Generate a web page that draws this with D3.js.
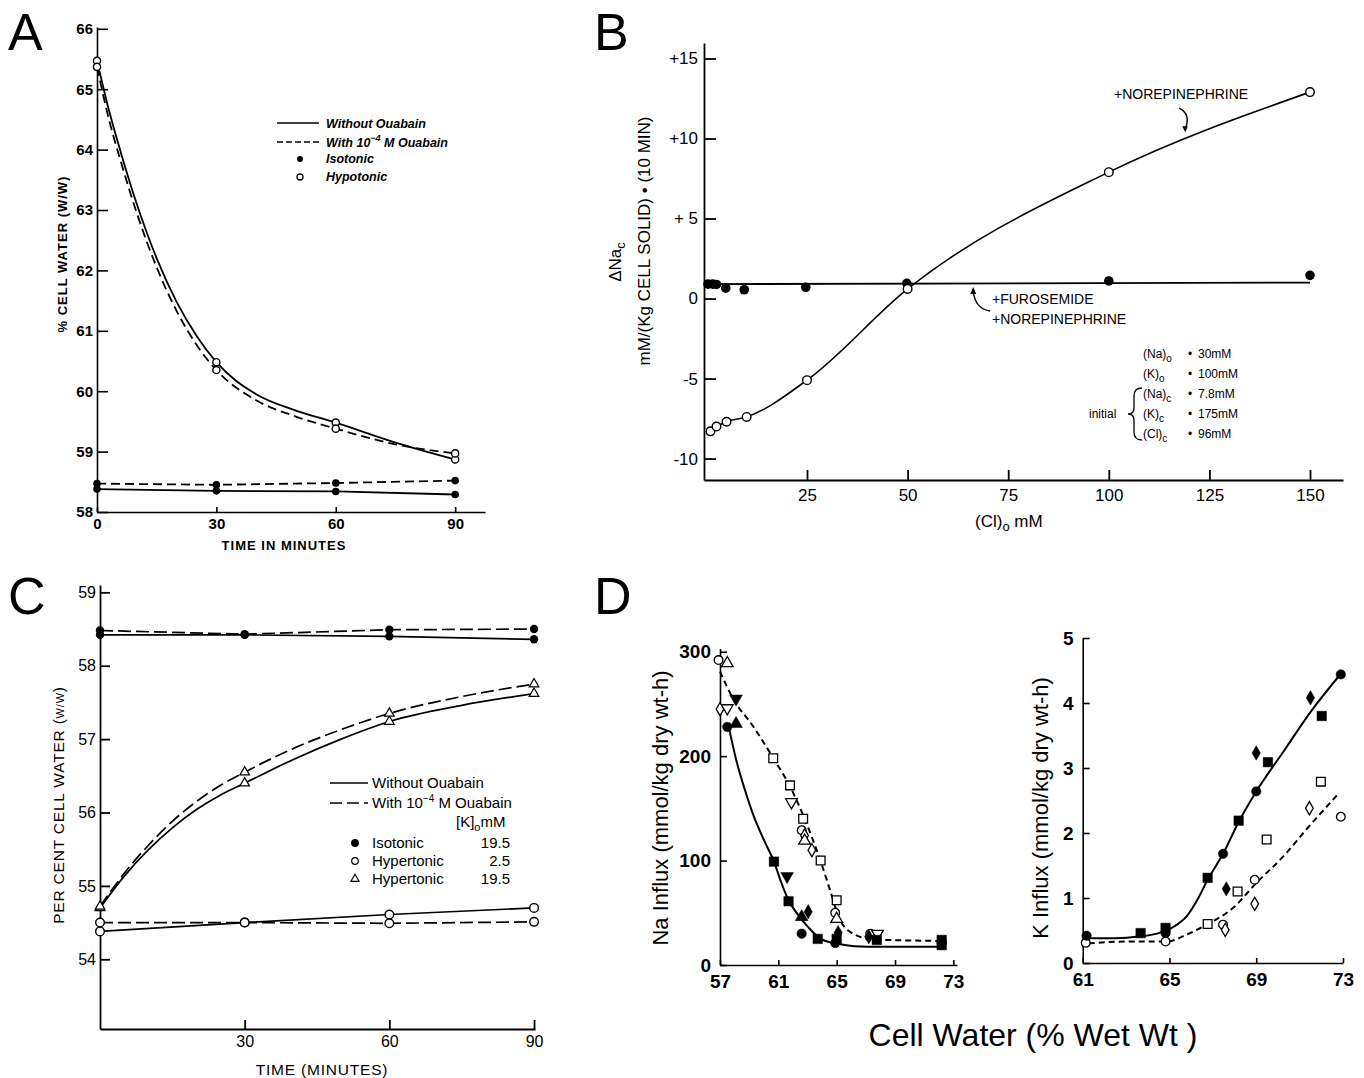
<!DOCTYPE html>
<html><head><meta charset="utf-8">
<script src="https://cdn.jsdelivr.net/npm/d3@7"></script>
<style>body{margin:0;background:#fff}svg{display:block}</style>
</head><body>
<script>
// ================= DATA =================
// Panel A
const aTime = [0, 30, 60, 90];
const aHypoWithout = [65.47, 60.48, 59.48, 58.87];
const aHypoWith = [65.37, 60.35, 59.38, 58.97];
const aIsoWithout = [58.38, 58.35, 58.34, 58.29];
const aIsoWith = [58.47, 58.45, 58.48, 58.52];
const aFitTime = [0, 3, 6, 10, 15, 20, 25, 30, 40, 50, 60, 75, 90];
const aFitWithout = [65.47, 64.65, 63.95, 63.1, 62.2, 61.48, 60.92, 60.48, 59.95, 59.68, 59.48, 59.15, 58.87];
const aFitWith = [65.37, 64.5, 63.8, 62.95, 62.05, 61.33, 60.77, 60.35, 59.85, 59.58, 59.38, 59.12, 58.97];
const aYTicks = [58, 59, 60, 61, 62, 63, 64, 65, 66];
const aXTicks = [0, 30, 60, 90];

// Panel B
const bClNE = [1, 2.5, 5, 10, 25, 50, 100, 150];
const bNaNE = [-8.3, -8.0, -7.7, -7.4, -5.1, 0.6, 7.9, 12.9];
const bClFuro = [0.4, 1.6, 2.5, 4.8, 9.4, 24.7, 49.8, 100, 150];
const bNaFuro = [0.9, 0.9, 0.88, 0.65, 0.55, 0.7, 0.95, 1.1, 1.45];
const bFuroFitCl = [0, 150];
const bFuroFitNa = [0.9, 1.0];
const bXTicks = [25, 50, 75, 100, 125, 150];
const bYTicks = [-10, -5, 0, 5, 10, 15];
const bYTickLabels = ["-10", "-5", "0", "+ 5", "+10", "+15"];
const bCondLabel = ["(Na)", "(K)", "(Na)", "(K)", "(Cl)"];
const bCondSub = ["o", "o", "c", "c", "c"];
const bCondValue = ["30mM", "100mM", "7.8mM", "175mM", "96mM"];

// Panel C
const cTime = [0, 30, 60, 90];
const cIsoWithout = [58.42, 58.42, 58.40, 58.36];
const cIsoWith = [58.48, 58.43, 58.49, 58.50];
const cHyp25Without = [54.38, 54.50, 54.61, 54.70];
const cHyp25With = [54.50, 54.50, 54.49, 54.51];
const cHyp195Without = [54.70, 56.40, 57.24, 57.62];
const cHyp195With = [54.72, 56.55, 57.35, 57.75];
const cFitTime = [0, 5, 10, 15, 20, 25, 30, 40, 50, 60, 75, 90];
const cFit195Without = [54.70, 55.13, 55.49, 55.79, 56.04, 56.24, 56.40, 56.72, 57.0, 57.24, 57.46, 57.62];
const cFit195With = [54.72, 55.17, 55.55, 55.88, 56.15, 56.37, 56.55, 56.87, 57.13, 57.35, 57.58, 57.75];
const cYTicks = [54, 55, 56, 57, 58, 59];
const cXTicks = [30, 60, 90];
const cLegendNames = ["Isotonic", "Hypertonic", "Hypertonic"];
const cLegendK = ["19.5", "2.5", "19.5"];

// Panel D (Na influx)
const naClosed = [[57.5,228,"circle"],[58.1,231,"triangle"],[58.1,255,"invtri"],[60.7,99,"square"],
  [61.6,85,"invtri"],[61.7,61,"square"],[62.6,46,"triangle"],[63.05,51,"diamond"],[62.6,30,"circle"],
  [63.7,25,"square"],[64.9,21,"circle"],[65.0,25,"square"],[65.1,31,"diamond"],[67.2,27,"diamond"],
  [67.75,24,"square"],[72.2,24,"square"],[72.2,19,"square"]];
const naOpen = [[56.9,292,"circle"],[57.5,289,"triangle"],[57.0,245,"diamond"],[57.5,246,"invtri"],
  [60.65,198,"square"],[61.8,172,"square"],[61.9,156,"invtri"],[62.7,140,"square"],[62.6,129,"circle"],
  [62.8,124,"diamond"],[62.8,119,"triangle"],[63.3,110,"diamond"],[63.9,100,"square"],[65.0,62,"square"],
  [64.9,50,"circle"],[65.0,44,"triangle"],[67.3,30,"circle"],[67.8,30,"invtri"]];
const naFitSolid = [[57.57,230],[58.1,197],[58.7,168],[59.3,143],[60,120],[60.7,99],[61.2,79],[61.7,62],
  [62.3,49],[63,37],[63.9,25],[65,20.5],[66.2,18],[68,17.5],[72.3,17.5]];
const naFitDashed = [[57.0,281],[57.9,255],[59.3,228],[60.66,198],[61.8,171],[62.83,139],[63.86,101],
  [64.54,72],[65.23,43],[66.14,30],[67.5,24.5],[72.3,23]];
const naXTicks = [57, 61, 65, 69, 73];
const naYTicks = [0, 100, 200, 300];

// Panel D (K influx)
const kClosed = [[61.18,0.42,"circle"],[63.67,0.46,"square"],[64.82,0.54,"square"],[64.82,0.46,"circle"],
  [66.76,1.31,"square"],[67.62,1.14,"diamond"],[67.47,1.68,"circle"],[68.19,2.19,"square"],[69.0,2.64,"circle"],
  [69.0,3.23,"diamond"],[69.54,3.09,"square"],[71.5,4.08,"diamond"],[72.02,3.80,"square"],[72.9,4.44,"circle"]];
const kOpen = [[61.14,0.31,"circle"],[64.82,0.33,"circle"],[66.76,0.60,"square"],[67.47,0.59,"circle"],
  [67.57,0.51,"diamond"],[68.14,1.10,"square"],[68.93,1.28,"circle"],[68.93,0.91,"diamond"],[69.48,1.90,"square"],
  [71.45,2.38,"diamond"],[71.98,2.79,"square"],[72.9,2.25,"circle"]];
const kFitSolid = [[61.28,0.38],[62.5,0.38],[63.67,0.41],[64.5,0.46],[65.2,0.56],[65.8,0.72],[66.3,0.98],
  [66.76,1.28],[67.47,1.68],[68.19,2.17],[69.0,2.64],[70.25,3.25],[71.5,3.86],[72.9,4.45]];
const kFitDashed = [[61.28,0.3],[63,0.33],[64.9,0.33],[65.8,0.44],[66.72,0.59],[67.94,0.85],[69.0,1.23],
  [70.25,1.64],[71.3,2.05],[72.83,2.62]];
const kXTicks = [61, 65, 69, 73];
const kYTicks = [0, 1, 2, 3, 4, 5];

// ================= DRAWING =================
const FONT = "'Liberation Sans', Arial, Helvetica, sans-serif";
const intFmt = d3.format("d");
const svg = d3.select("body").append("svg").attr("width", 1364).attr("height", 1078)
  .style("font-family", FONT);

function styleAxis(g, fs, fw, sw) {
  g.attr("font-size", fs).attr("font-family", FONT);
  g.select(".domain").attr("stroke", "#000").attr("stroke-width", sw);
  g.selectAll(".tick line").attr("stroke", "#000").attr("stroke-width", sw);
  g.selectAll(".tick text").attr("fill", "#000").attr("font-weight", fw);
}
function zip(a, b) { return a.map((v, i) => [v, b[i]]); }
function rich(g, x, y, parts, attrs) {
  const t = g.append("text").attr("x", x).attr("y", y);
  Object.entries(attrs || {}).forEach(([k, v]) => t.attr(k, v));
  let shift = 0;
  parts.forEach(([s, kind, fsz]) => {
    const ts = t.append("tspan").text(s);
    let target = kind === "sub" ? 4 : kind === "sup" ? -6 : 0;
    ts.attr("dy", target - shift); shift = target;
    if (fsz) ts.attr("font-size", fsz);
  });
  return t;
}
const symType = { circle: d3.symbolCircle, square: d3.symbolSquare, triangle: d3.symbolTriangle,
  invtri: d3.symbolTriangle, diamond: d3.symbolDiamond };
const symSize = { circle: 70, square: 90, triangle: 70, invtri: 70, diamond: 60 };

// Panel letters
[["A", 8, 50], ["B", 594, 50], ["C", 8, 614], ["D", 594, 614]].forEach(([l, x, y]) =>
  svg.append("text").attr("x", x).attr("y", y).attr("font-size", 52).text(l));

// ---------- Panel A ----------
{
  const g = svg.append("g");
  const x = d3.scaleLinear().domain([0, 97.5]).range([97, 485]);
  const y = d3.scaleLinear().domain([58, 66.03]).range([512, 27]);
  styleAxis(g.append("g").attr("transform", `translate(0,${y(58)})`)
    .call(d3.axisBottom(x).tickValues(aXTicks).tickFormat(intFmt).tickSize(-5).tickSizeOuter(0).tickPadding(6)), 15, "bold", 1.6);
  styleAxis(g.append("g").attr("transform", `translate(${x(0)},0)`)
    .call(d3.axisLeft(y).tickValues(aYTicks).tickFormat(intFmt).tickSize(-11).tickSizeOuter(0).tickPadding(4)), 15, "bold", 1.6);
  const fit = d3.line().x(d => x(d[0])).y(d => y(d[1])).curve(d3.curveMonotoneX);
  const lin = d3.line().x(d => x(d[0])).y(d => y(d[1]));
  g.append("path").attr("d", fit(zip(aFitTime, aFitWithout))).attr("fill", "none").attr("stroke", "#000").attr("stroke-width", 1.8);
  g.append("path").attr("d", fit(zip(aFitTime, aFitWith))).attr("fill", "none").attr("stroke", "#000").attr("stroke-width", 1.8).attr("stroke-dasharray", "9,5");
  g.append("path").attr("d", lin(zip(aTime, aIsoWithout))).attr("fill", "none").attr("stroke", "#000").attr("stroke-width", 1.8);
  g.append("path").attr("d", lin(zip(aTime, aIsoWith))).attr("fill", "none").attr("stroke", "#000").attr("stroke-width", 1.8).attr("stroke-dasharray", "9,5");
  [aHypoWithout, aHypoWith].forEach(arr => g.selectAll(null).data(zip(aTime, arr)).enter().append("circle")
    .attr("cx", d => x(d[0])).attr("cy", d => y(d[1])).attr("r", 3.6).attr("fill", "#fff").attr("stroke", "#000").attr("stroke-width", 1.4));
  [aIsoWithout, aIsoWith].forEach(arr => g.selectAll(null).data(zip(aTime, arr)).enter().append("circle")
    .attr("cx", d => x(d[0])).attr("cy", d => y(d[1])).attr("r", 3.8).attr("fill", "#000"));
  // legend
  const lg = g.append("g").attr("font-size", 12.5).attr("font-weight", "bold").attr("font-style", "italic");
  lg.append("line").attr("x1", 277).attr("x2", 319).attr("y1", 123).attr("y2", 123).attr("stroke", "#000").attr("stroke-width", 1.6);
  lg.append("text").attr("x", 326).attr("y", 127.5).text("Without  Ouabain");
  lg.append("line").attr("x1", 277).attr("x2", 319).attr("y1", 142).attr("y2", 142).attr("stroke", "#000").attr("stroke-width", 1.6).attr("stroke-dasharray", "6,3");
  rich(lg, 326, 146.5, [["With 10"], ["−4", "sup", 9], [" M Ouabain"]]);
  lg.append("circle").attr("cx", 300).attr("cy", 159).attr("r", 3).attr("fill", "#000");
  lg.append("text").attr("x", 326).attr("y", 163).text("Isotonic");
  lg.append("circle").attr("cx", 300).attr("cy", 177).attr("r", 3).attr("fill", "#fff").attr("stroke", "#000").attr("stroke-width", 1.3);
  lg.append("text").attr("x", 326).attr("y", 181).text("Hypotonic");
  g.append("text").attr("transform", "translate(67,254) rotate(-90)").attr("text-anchor", "middle")
    .attr("font-size", 13).attr("font-weight", "bold").attr("letter-spacing", 1).text("% CELL WATER (W/W)");
  g.append("text").attr("x", 284).attr("y", 550).attr("text-anchor", "middle")
    .attr("font-size", 13).attr("font-weight", "bold").attr("letter-spacing", 1).text("TIME IN MINUTES");
}

// ---------- Panel B ----------
{
  const g = svg.append("g");
  const x = d3.scaleLinear().domain([-0.6, 158.2]).range([704, 1343]);
  const y = d3.scaleLinear().domain([-11.34, 15.97]).range([480, 43]);
  styleAxis(g.append("g").attr("transform", `translate(0,${y.range()[0]})`)
    .call(d3.axisBottom(x).tickValues(bXTicks).tickFormat(intFmt).tickSize(-10).tickSizeOuter(0).tickPadding(9)), 17, "normal", 1.8);
  styleAxis(g.append("g").attr("transform", `translate(${x.range()[0]},0)`)
    .call(d3.axisLeft(y).tickValues(bYTicks).tickFormat((d, i) => bYTickLabels[i]).tickSize(-12).tickSizeOuter(0).tickPadding(6)), 17, "normal", 1.8);
  const fit = d3.line().x(d => x(d[0])).y(d => y(d[1])).curve(d3.curveMonotoneX);
  g.append("path").attr("d", fit(zip(bFuroFitCl, bFuroFitNa))).attr("fill", "none").attr("stroke", "#000").attr("stroke-width", 1.8);
  g.append("path").attr("d", fit(zip(bClNE, bNaNE))).attr("fill", "none").attr("stroke", "#000").attr("stroke-width", 1.6);
  g.selectAll(null).data(zip(bClFuro, bNaFuro)).enter().append("circle")
    .attr("cx", d => x(d[0])).attr("cy", d => y(d[1])).attr("r", 4.8).attr("fill", "#000");
  g.selectAll(null).data(zip(bClNE, bNaNE)).enter().append("circle")
    .attr("cx", d => x(d[0])).attr("cy", d => y(d[1])).attr("r", 4.3).attr("fill", "#fff").attr("stroke", "#000").attr("stroke-width", 1.4);
  // annotations
  const an = g.append("g").attr("font-size", 14);
  an.append("text").attr("x", 1114).attr("y", 99).text("+NOREPINEPHRINE");
  const t1 = [x(119), y(10.4)];
  an.append("path").attr("d", `M${t1[0] - 6},${t1[1] - 24} Q${t1[0] + 6},${t1[1] - 18} ${t1[0]},${t1[1] - 3}`)
    .attr("fill", "none").attr("stroke", "#000").attr("stroke-width", 1.4);
  an.append("path").attr("d", `M${t1[0] - 3},${t1[1] - 6} L${t1[0]},${t1[1]} L${t1[0] + 2.5},${t1[1] - 6}Z`).attr("fill", "#000");
  an.append("text").attr("x", 992).attr("y", 304).text("+FUROSEMIDE");
  an.append("text").attr("x", 992).attr("y", 324).text("+NOREPINEPHRINE");
  const t2 = [x(66.3), y(0.72)];
  an.append("path").attr("d", `M${t2[0] + 17},${t2[1] + 24} Q${t2[0] + 2},${t2[1] + 22} ${t2[0]},${t2[1] + 4}`)
    .attr("fill", "none").attr("stroke", "#000").attr("stroke-width", 1.4);
  an.append("path").attr("d", `M${t2[0] - 3},${t2[1] + 7} L${t2[0]},${t2[1]} L${t2[0] + 3},${t2[1] + 7}Z`).attr("fill", "#000");
  // conditions
  const cg = g.append("g").attr("font-size", 12);
  bCondLabel.forEach((lab, i) => {
    const yy = 358 + i * 20;
    rich(cg, 1143, yy, [[lab], [bCondSub[i], "sub", 10]]);
    cg.append("text").attr("x", 1188).attr("y", yy).text("•");
    cg.append("text").attr("x", 1198).attr("y", yy).text(bCondValue[i]);
  });
  cg.append("text").attr("x", 1089).attr("y", 418).text("initial");
  cg.append("path").attr("d", "M1142,388 Q1134,388 1134,396 L1134,408 Q1134,414 1128,414 Q1134,414 1134,420 L1134,432 Q1134,440 1142,440")
    .attr("fill", "none").attr("stroke", "#000").attr("stroke-width", 1.3);
  // axis titles
  rich(g, 0, 0, [["ΔNa"], ["c", "sub", 13]], { transform: "translate(621,262) rotate(-90)", "text-anchor": "middle", "font-size": 17 });
  g.append("text").attr("transform", "translate(650,241) rotate(-90)").attr("text-anchor", "middle")
    .attr("font-size", 17).text("mM/(Kg CELL SOLID) • (10 MIN)");
  rich(g, 975, 527, [["(Cl)"], ["o", "sub", 13], ["   mM", "base"]], { "font-size": 17 });
}

// ---------- Panel C ----------
{
  const g = svg.append("g");
  const x = d3.scaleLinear().domain([0, 90.2]).range([100, 535]);
  const y = d3.scaleLinear().domain([53.05, 59.1]).range([1029, 585]);
  styleAxis(g.append("g").attr("transform", `translate(0,${y.range()[0]})`)
    .call(d3.axisBottom(x).tickValues(cXTicks).tickFormat(intFmt).tickSize(-9).tickSizeOuter(0).tickPadding(7)), 16, "normal", 1.8);
  styleAxis(g.append("g").attr("transform", `translate(${x.range()[0]},0)`)
    .call(d3.axisLeft(y).tickValues(cYTicks).tickFormat(intFmt).tickSize(-10).tickSizeOuter(0).tickPadding(4)), 16, "normal", 1.8);
  const fit = d3.line().x(d => x(d[0])).y(d => y(d[1])).curve(d3.curveMonotoneX);
  const lin = d3.line().x(d => x(d[0])).y(d => y(d[1]));
  const dash = "13,5";
  const draw = (pts, gen, dashed) => g.append("path").attr("d", gen(pts)).attr("fill", "none").attr("stroke", "#000")
    .attr("stroke-width", 1.7).attr("stroke-dasharray", dashed ? dash : null);
  draw(zip(cTime, cIsoWithout), lin, false);
  draw(zip(cTime, cIsoWith), lin, true);
  draw(zip(cTime, cHyp25Without), lin, false);
  draw(zip(cTime, cHyp25With), lin, true);
  draw(zip(cFitTime, cFit195Without), fit, false);
  draw(zip(cFitTime, cFit195With), fit, true);
  [cIsoWithout, cIsoWith].forEach(arr => g.selectAll(null).data(zip(cTime, arr)).enter().append("circle")
    .attr("cx", d => x(d[0])).attr("cy", d => y(d[1])).attr("r", 4.2).attr("fill", "#000"));
  [cHyp25Without, cHyp25With].forEach(arr => g.selectAll(null).data(zip(cTime, arr)).enter().append("circle")
    .attr("cx", d => x(d[0])).attr("cy", d => y(d[1])).attr("r", 4.3).attr("fill", "#fff").attr("stroke", "#000").attr("stroke-width", 1.4));
  [cHyp195Without, cHyp195With].forEach(arr => g.selectAll(null).data(zip(cTime, arr)).enter().append("path")
    .attr("transform", d => `translate(${x(d[0])},${y(d[1])})`).attr("d", d3.symbol(d3.symbolTriangle, 40)())
    .attr("fill", "#fff").attr("stroke", "#000").attr("stroke-width", 1.2));
  // legend
  const lg = g.append("g").attr("font-size", 15);
  lg.append("line").attr("x1", 330).attr("x2", 368).attr("y1", 783).attr("y2", 783).attr("stroke", "#000").attr("stroke-width", 1.5);
  lg.append("text").attr("x", 372).attr("y", 788).text("Without  Ouabain");
  lg.append("line").attr("x1", 330).attr("x2", 368).attr("y1", 803).attr("y2", 803).attr("stroke", "#000").attr("stroke-width", 1.5).attr("stroke-dasharray", "12,5");
  rich(lg, 372, 808, [["With 10"], ["−4", "sup", 10], [" M Ouabain"]]);
  rich(lg, 456, 827, [["[K]"], ["o", "sub", 11], ["mM"]]);
  const mk = ["filled", "open", "tri"];
  cLegendNames.forEach((nm, i) => {
    const yy = 843 + i * 18;
    if (mk[i] === "tri") lg.append("path").attr("transform", `translate(355,${yy})`).attr("d", d3.symbol(d3.symbolTriangle, 30)())
      .attr("fill", "#fff").attr("stroke", "#000").attr("stroke-width", 1.1);
    else lg.append("circle").attr("cx", 355).attr("cy", yy).attr("r", 3.3)
      .attr("fill", mk[i] === "filled" ? "#000" : "#fff").attr("stroke", "#000").attr("stroke-width", 1.2);
    lg.append("text").attr("x", 372).attr("y", yy + 5).text(nm);
    lg.append("text").attr("x", 510).attr("y", yy + 5).attr("text-anchor", "end").text(cLegendK[i]);
  });
  rich(g, 0, 0, [["PER CENT CELL WATER ("], ["W/W", "base", 11], [")"]],
    { transform: "translate(64,805) rotate(-90)", "text-anchor": "middle", "font-size": 15.5, "letter-spacing": 0.8 });
  g.append("text").attr("x", 322).attr("y", 1075).attr("text-anchor", "middle").attr("font-size", 15.5)
    .attr("letter-spacing", 0.8).text("TIME  (MINUTES)");
}

// ---------- Panel D ----------
function drawPanelD(cfg) {
  const g = svg.append("g");
  const { x, y } = cfg;
  styleAxis(g.append("g").attr("transform", `translate(0,${y.range()[0]})`)
    .call(d3.axisBottom(x).tickValues(cfg.xTicks).tickFormat(intFmt).tickSize(-5).tickSizeOuter(0).tickPadding(10)), 19, "bold", 1.6);
  styleAxis(g.append("g").attr("transform", `translate(${x.range()[0]},0)`)
    .call(d3.axisLeft(y).tickValues(cfg.yTicks).tickFormat(intFmt).tickSize(-7).tickSizeOuter(0).tickPadding(9)), 19, "bold", 1.6);
  const fit = d3.line().x(d => x(d[0])).y(d => y(d[1])).curve(d3.curveMonotoneX);
  g.append("path").attr("d", fit(cfg.fitSolid)).attr("fill", "none").attr("stroke", "#000").attr("stroke-width", 2);
  g.append("path").attr("d", fit(cfg.fitDashed)).attr("fill", "none").attr("stroke", "#000").attr("stroke-width", 2).attr("stroke-dasharray", "6,4");
  const sym = (arr, filled) => g.selectAll(null).data(arr).enter().append("path")
    .attr("transform", d => `translate(${x(d[0])},${y(d[1])})` + (d[2] === "invtri" ? " rotate(180)" : ""))
    .attr("d", d => d3.symbol(symType[d[2]], symSize[d[2]] * (filled ? 1 : 0.85))())
    .attr("fill", filled ? "#000" : "#fff").attr("stroke", "#000").attr("stroke-width", filled ? 0.5 : 1.3);
  sym(cfg.open, false);
  sym(cfg.closed, true);
  g.append("text").attr("transform", `translate(${cfg.titleX},808) rotate(-90)`).attr("text-anchor", "middle")
    .attr("font-size", 22).text(cfg.title);
}
drawPanelD({
  x: d3.scaleLinear().domain([57, 73.25]).range([720, 957]),
  y: d3.scaleLinear().domain([0, 303]).range([965, 648.6]),
  xTicks: naXTicks, yTicks: naYTicks, fitSolid: naFitSolid, fitDashed: naFitDashed,
  closed: naClosed, open: naOpen, title: "Na Influx (mmol/kg dry wt-h)", titleX: 668
});
drawPanelD({
  x: d3.scaleLinear().domain([61, 73]).range([1082.7, 1343]),
  y: d3.scaleLinear().domain([0, 5]).range([963, 638]),
  xTicks: kXTicks, yTicks: kYTicks, fitSolid: kFitSolid, fitDashed: kFitDashed,
  closed: kClosed, open: kOpen, title: "K Influx (mmol/kg dry wt-h)", titleX: 1048
});
svg.append("text").attr("x", 1033).attr("y", 1046).attr("text-anchor", "middle").attr("font-size", 32)
  .text("Cell Water (% Wet Wt )");
</script>
</body></html>
